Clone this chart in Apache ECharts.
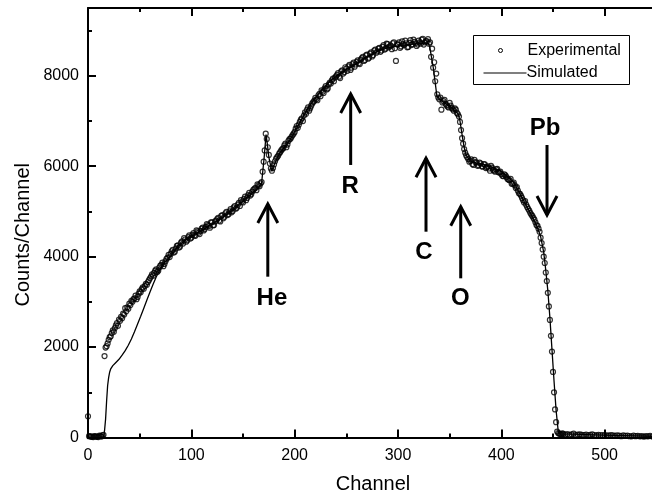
<!DOCTYPE html>
<html>
<head>
<meta charset="utf-8">
<script src="https://cdn.jsdelivr.net/npm/echarts@6/dist/echarts.min.js"></script>
<style>
  html, body { margin: 0; padding: 0; background: #fff; }
  #chart { width: 652px; height: 501px; }
</style>
</head>
<body>
<div id="chart"></div>
<script>
// Measured spectrum, even channels (0, 2, 4, ...)
const expEvenStart = 0;
const expChannelStep = 2;
const expCountsEven = [
  470, 25, 15, 30, 20, 10, 35, 50, 1800, 2020,
  2160, 2240, 2370, 2420, 2530, 2610, 2670, 2740, 2860, 2880,
  2960, 3020, 3060, 3140, 3110, 3230, 3280, 3290, 3400, 3440,
  3520, 3610, 3640, 3720, 3690, 3800, 3870, 3840, 3950, 4040,
  4060, 4150, 4110, 4240, 4200, 4310, 4290, 4380, 4360, 4470,
  4420, 4520, 4460, 4560, 4500, 4620, 4580, 4660, 4700, 4640,
  4760, 4700, 4800, 4860, 4780, 4920, 4880, 4990, 4940, 5050,
  5010, 5120, 5080, 5190, 5250, 5200, 5330, 5300, 5410, 5380,
  5480, 5520, 5600, 5560, 5650, 6100, 6720, 6420, 6060, 5900,
  6040, 6170, 6230, 6310, 6380, 6460, 6420, 6560, 6610, 6690,
  6760, 6890, 6920, 7030, 7000, 7190, 7250, 7230, 7340, 7420,
  7510, 7460, 7600, 7680, 7620, 7770, 7720, 7850, 7900, 7880,
  7990, 8060, 7950, 8120, 8080, 8160, 8210, 8130, 8260, 8200,
  8310, 8280, 8360, 8420, 8350, 8470, 8400, 8520, 8460, 8580,
  8540, 8620, 8560, 8680, 8600, 8700, 8650, 8590, 8740, 8330,
  8690, 8620, 8760, 8680, 8720, 8640, 8790, 8700, 8750, 8660,
  8780, 8710, 8820, 8740, 8760, 8710, 8420, 8180, 7880, 7590,
  7480, 7250, 7440, 7380, 7320, 7400, 7290, 7230, 7250, 7150,
  6980, 6620, 6380, 6240, 6160, 6120, 6050, 6140, 6080, 6020,
  6060, 5990, 6040, 5980, 5950, 6010, 5920, 5880, 5940, 5860,
  5830, 5780, 5800, 5720, 5690, 5610, 5640, 5520, 5460, 5390,
  5300, 5200, 5150, 5060, 4970, 4900, 4820, 4700, 4620, 4420,
  4160, 3860, 3460, 2900, 2250, 1450, 620, 130, 85, 70,
  80, 65, 75, 60, 70, 85, 55, 65, 70, 60,
  55, 65, 50, 60, 70, 55, 45, 60, 50, 55,
  45, 50, 40, 55, 45, 35, 50, 40, 30, 45,
  35, 40, 30, 25, 40, 30, 35, 25, 30, 20,
  30, 25, 35, 20, 25
];

// Measured spectrum, odd channels (1, 3, 5, ... 459)
const expOddStart = 1;
const expCountsOdd = [
  30, 20, 10, 25, 15, 40, 20, 60, 1990, 2080,
  2220, 2310, 2340, 2480, 2470, 2580, 2640, 2720, 2790, 2850,
  2930, 3000, 3080, 3060, 3180, 3210, 3320, 3350, 3380, 3480,
  3560, 3580, 3690, 3660, 3760, 3820, 3790, 3900, 3980, 3990,
  4120, 4090, 4180, 4250, 4220, 4340, 4410, 4330, 4430, 4400,
  4480, 4470, 4580, 4530, 4570, 4640, 4610, 4720, 4680, 4760,
  4690, 4780, 4830, 4800, 4900, 4850, 4960, 4920, 5000, 4980,
  5090, 5060, 5150, 5120, 5220, 5280, 5250, 5360, 5350, 5440,
  5500, 5470, 5580, 5620, 5880, 6350, 6600, 6250, 5950, 5960,
  6110, 6200, 6280, 6350, 6400, 6500, 6480, 6600, 6650, 6720,
  6830, 6850, 6980, 7060, 7120, 7160, 7300, 7280, 7390, 7450,
  7480, 7570, 7550, 7650, 7720, 7700, 7810, 7830, 7940, 7960,
  8020, 7980, 8100, 8050, 8190, 8110, 8240, 8180, 8290, 8250,
  8340, 8260, 8390, 8330, 8450, 8380, 8490, 8430, 8560, 8510,
  8600, 8530, 8640, 8580, 8710, 8630, 8670, 8720, 8610, 8700,
  8740, 8650, 8700, 8780, 8630, 8730, 8680, 8800, 8720, 8690,
  8740, 8800, 8690, 8770, 8810, 8740, 8600, 8300, 8050, 7520,
  7520, 7410, 7470, 7350, 7300, 7340, 7260, 7280, 7180, 7100,
  6800, 6500, 6300, 6200, 6100, 6150, 6030, 6090, 6010, 6080,
  6000, 6050, 5960, 6000, 5900, 5970, 5900, 5930, 5870, 5880,
  5790, 5820, 5760, 5700, 5720, 5620, 5580, 5540, 5400, 5350,
  5250, 5230, 5100, 5020, 4930, 4860, 4760, 4680, 4550, 4300,
  4000, 3650, 3200, 2600, 1900, 1000, 340, 100, 75, 90
];

// Simulated spectrum as [channel, counts]
const simulated = [
  [0, 0], [15, 0], [16, 150], [17, 400], [18, 800], [19, 1150], [20, 1330],
  [21, 1450], [22, 1520], [24, 1590], [27, 1660], [30, 1730], [33, 1820],
  [36, 1920], [39, 2040], [42, 2180], [45, 2340], [48, 2510], [51, 2680],
  [54, 2860], [57, 3040], [60, 3220], [63, 3390], [66, 3550], [69, 3690],
  [72, 3810], [75, 3900], [78, 3960], [80, 4010], [85, 4170], [90, 4290],
  [100, 4450], [110, 4580], [120, 4720], [130, 4870], [140, 5030],
  [150, 5230], [160, 5430], [165, 5530], [168, 5620], [170.5, 6200],
  [172.3, 6700], [173.5, 6500], [175, 6200], [177.8, 5900], [180, 6020],
  [183, 6180], [186, 6300], [190, 6420], [194, 6540], [198, 6680],
  [202, 6850], [206, 7010], [212, 7250], [218, 7450], [224, 7630],
  [230, 7780], [236, 7920], [242, 8020], [250, 8140], [258, 8250],
  [266, 8360], [274, 8460], [282, 8560], [290, 8620], [300, 8660],
  [310, 8690], [320, 8710], [329.5, 8720], [331, 8600], [334, 8200],
  [336, 7850], [337.6, 7560], [340, 7490], [344, 7420], [350, 7330],
  [355, 7230], [358.5, 7150], [360, 7000], [362, 6700], [364, 6420],
  [366, 6240], [370, 6120], [376, 6070], [383, 6040], [390, 5990],
  [399, 5900], [405, 5790], [412, 5640], [417, 5430], [422, 5220],
  [428, 4970], [434, 4700], [438, 4450], [441, 4100], [443, 3700],
  [445, 3250], [447, 2650], [449, 1950], [451, 1250], [453, 600],
  [455, 150], [456, 80], [470, 75], [490, 60], [510, 45], [530, 35], [550, 25]
];

// Element markers: arrow from tail counts to tip counts at a channel, label position
const markerNames = ['He', 'R', 'C', 'O', 'Pb'];
const markerChannels = [174, 254.2, 327.1, 360.7, 444.2];
const markerTailCounts = [3557, 6028, 4552, 3521, 6470];
const markerTipCounts = [5165, 7598, 6176, 5105, 4922];
const markerLabelAt = [[178, 3085], [253.8, 5552], [325.2, 4103], [360.3, 3079], [442.3, 6846]];

const FONT = '"Liberation Sans", Arial, sans-serif';

const expPoints = expCountsEven.map((c, i) => [expEvenStart + i * expChannelStep, c])
  .concat(expCountsOdd.map((c, i) => [expOddStart + i * expChannelStep, c]));
const markerData = markerChannels.map((ch, i) => [ch, markerTailCounts[i], markerTipCounts[i]]);

const chart = echarts.init(document.getElementById('chart'), null, { renderer: 'canvas' });

const axisLineStyle = { show: true, onZero: false, lineStyle: { color: '#000', width: 2 } };
const plainNumber = v => String(v);

chart.setOption({
  animation: false,
  backgroundColor: '#fff',
  textStyle: { fontFamily: FONT, color: '#000' },
  grid: {
    left: 88, top: 8, width: 620, height: 429.5,
    containLabel: false, outerBoundsMode: 'none', show: false
  },
  xAxis: [
    {
      type: 'value', position: 'bottom', min: 0, max: 600, interval: 100,
      name: 'Channel', nameLocation: 'middle', nameGap: 37, nameMoveOverlap: false,
      nameTextStyle: { fontSize: 20, color: '#000', fontFamily: FONT, padding: [0, 50, 0, 0] },
      axisLine: axisLineStyle,
      axisTick: { show: true, inside: true, length: 8, lineStyle: { color: '#000', width: 2 } },
      minorTick: { show: true, splitNumber: 2, length: 4, lineStyle: { color: '#000', width: 2 } },
      axisLabel: { show: true, margin: 10, fontSize: 16, color: '#000', fontFamily: FONT, formatter: plainNumber },
      splitLine: { show: false }, minorSplitLine: { show: false }
    },
    {
      type: 'value', position: 'top', min: 0, max: 600, interval: 100,
      axisLine: axisLineStyle,
      axisTick: { show: true, inside: true, length: 8, lineStyle: { color: '#000', width: 2 } },
      minorTick: { show: true, splitNumber: 2, length: 4, lineStyle: { color: '#000', width: 2 } },
      axisLabel: { show: false },
      splitLine: { show: false }
    }
  ],
  yAxis: [
    {
      type: 'value', position: 'left', min: 0, max: 9500, interval: 2000,
      name: 'Counts/Channel', nameLocation: 'middle', nameGap: 55, nameMoveOverlap: false,
      nameTextStyle: { fontSize: 20, color: '#000', fontFamily: FONT, padding: [0, 24, 0, 0] },
      axisLine: axisLineStyle,
      axisTick: { show: true, inside: true, length: 8, lineStyle: { color: '#000', width: 2 } },
      axisLabel: {
        show: true, margin: 9, fontSize: 16, color: '#000', fontFamily: FONT,
        showMaxLabel: false, formatter: plainNumber
      },
      splitLine: { show: false }
    },
    {
      type: 'value', position: 'left', min: 0, max: 9500, interval: 1000,
      axisLine: { show: false, onZero: false },
      axisTick: { show: true, inside: true, length: 4, lineStyle: { color: '#000', width: 2 } },
      axisLabel: { show: false },
      splitLine: { show: false }
    }
  ],
  graphic: [
    {
      type: 'group', left: 473, top: 35, z: 100,
      children: [
        { type: 'rect', shape: { x: 0, y: 0, width: 156, height: 49 },
          style: { fill: '#fff', stroke: '#000', lineWidth: 1 } },
        { type: 'circle', shape: { cx: 27, cy: 15, r: 2 },
          style: { fill: 'none', stroke: '#000', lineWidth: 1 } },
        { type: 'text', x: 54, y: 15,
          style: { text: 'Experimental', font: '16px ' + FONT, fill: '#000', verticalAlign: 'middle', align: 'left' } },
        { type: 'line', shape: { x1: 10, y1: 37.5, x2: 53, y2: 37.5 },
          style: { stroke: '#000', lineWidth: 1.2 } },
        { type: 'text', x: 53, y: 37.5,
          style: { text: 'Simulated', font: '16px ' + FONT, fill: '#000', verticalAlign: 'middle', align: 'left' } }
      ]
    }
  ],
  series: [
    {
      name: 'Experimental', type: 'scatter', xAxisIndex: 0, yAxisIndex: 0,
      data: expPoints, symbol: 'circle', symbolSize: 5,
      itemStyle: { color: 'rgba(0,0,0,0)', borderColor: '#000', borderWidth: 1.2 },
      z: 2
    },
    {
      name: 'Simulated', type: 'line', xAxisIndex: 0, yAxisIndex: 0,
      data: simulated, symbol: 'none', showSymbol: false,
      lineStyle: { color: '#000', width: 1.3 },
      z: 3
    },
    {
      name: 'Markers', type: 'custom', xAxisIndex: 0, yAxisIndex: 0,
      data: markerData, clip: false, z: 4,
      renderItem: function (params, api) {
        const i = params.dataIndex;
        const tail = api.coord([api.value(0), api.value(1)]);
        const tip = api.coord([api.value(0), api.value(2)]);
        const dir = tip[1] < tail[1] ? -1 : 1;
        const headLen = 19, headHalf = 10;
        const lab = api.coord(markerLabelAt[i]);
        return {
          type: 'group',
          children: [
            { type: 'line',
              shape: { x1: tail[0], y1: tail[1], x2: tip[0], y2: tip[1] },
              style: { stroke: '#000', lineWidth: 3 } },
            { type: 'polyline',
              shape: { points: [
                [tip[0] - headHalf, tip[1] - dir * headLen],
                [tip[0], tip[1]],
                [tip[0] + headHalf, tip[1] - dir * headLen]
              ] },
              style: { stroke: '#000', lineWidth: 3, fill: null } },
            { type: 'text', x: lab[0], y: lab[1],
              style: { text: markerNames[i], font: 'bold 24px ' + FONT, fill: '#000',
                       align: 'center', verticalAlign: 'middle' } }
          ]
        };
      }
    }
  ]
});
</script>
</body>
</html>
